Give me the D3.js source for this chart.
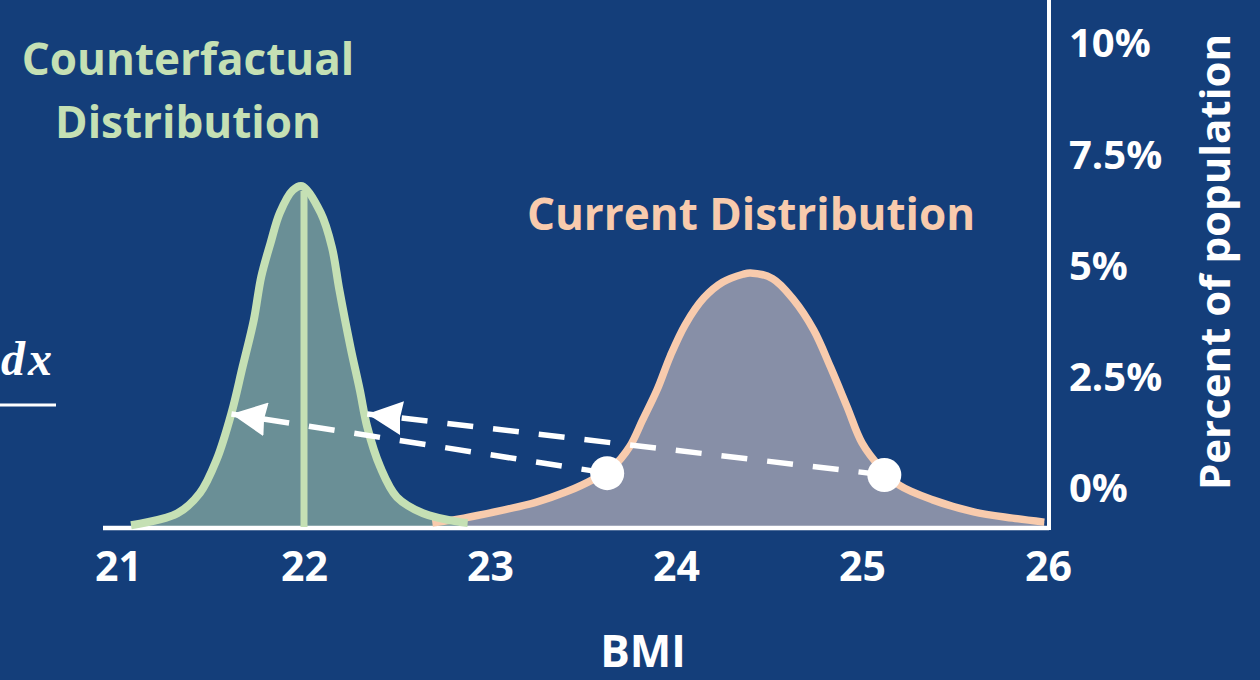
<!DOCTYPE html>
<html>
<head>
<meta charset="utf-8">
<script src="https://cdn.jsdelivr.net/npm/d3@7"></script>
<style>
  html, body { margin: 0; padding: 0; background: #143e7a; overflow: hidden; }
  svg { display: block; }
  text { font-family: "Open Sans", sans-serif; font-weight: bold; font-variant-ligatures: none; }
</style>
</head>
<body>
<div class="chart"></div>
<script>
"use strict";

// BMI ticks and percent ticks
const xTicks = [21, 22, 23, 24, 25, 26];
const yTicks = [0, 2.5, 5, 7.5, 10];

// counterfactual distribution, [BMI, percent of population]
const counterfactual = [
  [21.07, 0.04], [21.32, 0.31], [21.44, 0.76], [21.53, 1.51], [21.61, 2.56],
  [21.67, 3.6], [21.73, 4.65], [21.77, 5.62], [21.82, 6.38], [21.87, 7.06],
  [21.94, 7.57], [21.99, 7.66], [22.09, 7.06], [22.15, 6.29], [22.19, 5.33],
  [22.25, 4.04], [22.3, 3.08], [22.34, 2.25], [22.41, 1.35], [22.5, 0.67],
  [22.64, 0.31], [22.84, 0.11], [22.88, 0.09]
];

// current distribution
const current = [
  [22.69, 0.09], [22.86, 0.2], [23.07, 0.38], [23.25, 0.56], [23.41, 0.79],
  [23.55, 1.06], [23.66, 1.35], [23.75, 1.8], [23.82, 2.4], [23.9, 3.1],
  [23.97, 3.85], [24.05, 4.55], [24.15, 5.15], [24.25, 5.5], [24.36, 5.68],
  [24.4, 5.71], [24.52, 5.58], [24.63, 5.12], [24.74, 4.43], [24.83, 3.6],
  [24.92, 2.7], [25.0, 1.89], [25.1, 1.33], [25.2, 0.94], [25.38, 0.61],
  [25.6, 0.34], [25.81, 0.2], [25.98, 0.11]
];

// mean of the counterfactual (vertical line)
const cfMean = [22.0, 7.55];

// shift arrows: from a point on the current curve to the counterfactual curve
const shifts = [
  { from: [23.63, 1.21], to: [21.61, 2.54] },
  { from: [25.12, 1.17], to: [22.34, 2.54] }
];

const width = 1260;
const height = 680;

const svg = d3
  .select(".chart")
  .append("svg")
  .attr("width", width)
  .attr("height", height);

svg.append("rect").attr("width", width).attr("height", height).style("fill", "#143e7a");

const x = d3.scaleLinear().domain([21, 26]).range([118, 1048]);
const y = d3.scaleLinear().domain([0, 10]).range([527, 82]);

const area = d3
  .area()
  .x((d) => x(d[0]))
  .y0(y(0))
  .y1((d) => y(d[1]))
  .curve(d3.curveCatmullRom.alpha(0.5));

const line = d3
  .line()
  .x((d) => x(d[0]))
  .y((d) => y(d[1]))
  .curve(d3.curveCatmullRom.alpha(0.5));

// fills
svg.append("path").datum(current).attr("d", area).style("fill", "#878fa7");
svg.append("path").datum(counterfactual).attr("d", area).style("fill", "#6a8f96");

// baseline and right axis line
svg
  .append("line")
  .attr("x1", 103)
  .attr("x2", 1049)
  .attr("y1", y(0) + 1)
  .attr("y2", y(0) + 1)
  .style("stroke", "#fff")
  .style("stroke-width", 4.5);

svg
  .append("line")
  .attr("x1", 1049)
  .attr("x2", 1049)
  .attr("y1", 0)
  .attr("y2", y(0) + 3)
  .style("stroke", "#fff")
  .style("stroke-width", 4);

// outlines
svg
  .append("path")
  .datum(current)
  .attr("d", line)
  .style("fill", "none")
  .style("stroke", "#f8cbad")
  .style("stroke-width", 7.5);

svg
  .append("path")
  .datum(counterfactual)
  .attr("d", line)
  .style("fill", "none")
  .style("stroke", "#c5e0b4")
  .style("stroke-width", 8);

svg
  .append("line")
  .attr("x1", x(cfMean[0]))
  .attr("x2", x(cfMean[0]))
  .attr("y1", y(0))
  .attr("y2", y(cfMean[1]))
  .style("stroke", "#c5e0b4")
  .style("stroke-width", 7);

// arrow head
svg
  .append("defs")
  .append("marker")
  .attr("id", "head")
  .attr("markerUnits", "userSpaceOnUse")
  .attr("viewBox", "0 0 36 34")
  .attr("markerWidth", 36)
  .attr("markerHeight", 34)
  .attr("refX", 35)
  .attr("refY", 17)
  .attr("orient", "auto")
  .append("path")
  .attr("d", "M0,0 L35,17 L0,34 L2,17 Z")
  .style("fill", "#fff");

svg
  .selectAll(".shift")
  .data(shifts)
  .enter()
  .append("line")
  .attr("class", "shift")
  .attr("x1", (d) => x(d.from[0]))
  .attr("y1", (d) => y(d.from[1]))
  .attr("x2", (d) => x(d.to[0]))
  .attr("y2", (d) => y(d.to[1]))
  .style("stroke", "#fff")
  .style("stroke-width", 5.5)
  .style("stroke-dasharray", "26 20")
  .attr("marker-end", "url(#head)");

svg
  .selectAll(".dot")
  .data(shifts)
  .enter()
  .append("circle")
  .attr("class", "dot")
  .attr("cx", (d) => x(d.from[0]))
  .attr("cy", (d) => y(d.from[1]))
  .attr("r", 17)
  .style("fill", "#fff");

// axes
const xAxis = svg
  .append("g")
  .attr("transform", `translate(0,${y(0)})`)
  .call(
    d3
      .axisBottom(x)
      .tickValues(xTicks)
      .tickSize(0)
      .tickPadding(25)
      .tickFormat(d3.format("d"))
  );
xAxis.select(".domain").remove();
xAxis.selectAll("text").style("font-size", "41px").style("fill", "#fff").style("font-family", null);

const yAxis = svg
  .append("g")
  .attr("transform", "translate(1049,-38)")
  .call(
    d3
      .axisRight(y)
      .tickValues(yTicks)
      .tickSize(0)
      .tickPadding(20)
      .tickFormat((d) => d + "%")
  );
yAxis.select(".domain").remove();
yAxis.selectAll("text").style("font-size", "40px").style("fill", "#fff").style("font-family", null);

// labels
svg
  .append("text")
  .attr("x", 643)
  .attr("y", 667)
  .attr("text-anchor", "middle")
  .style("font-size", "44px")
  .style("fill", "#fff")
  .text("BMI");

svg
  .append("text")
  .attr("transform", "translate(1230,262) rotate(-90)")
  .attr("text-anchor", "middle")
  .style("font-size", "42px")
  .style("fill", "#fff")
  .text("Percent of population");

const cfLabel = svg
  .append("text")
  .attr("text-anchor", "middle")
  .style("font-size", "44px")
  .style("fill", "#c5e0b4");
cfLabel.append("tspan").attr("x", 188).attr("y", 75).text("Counterfactual");
cfLabel.append("tspan").attr("x", 188).attr("y", 138).text("Distribution");

svg
  .append("text")
  .attr("x", 751)
  .attr("y", 230)
  .attr("text-anchor", "middle")
  .style("font-size", "44px")
  .style("fill", "#f8cbad")
  .text("Current Distribution");

// formula fragment at the left edge
svg
  .append("text")
  .attr("x", 1)
  .attr("y", 375)
  .style("font-family", "'Liberation Serif', serif")
  .style("font-style", "italic")
  .style("font-size", "48px")
  .style("letter-spacing", "3px")
  .style("fill", "#fff")
  .text("dx");

svg
  .append("line")
  .attr("x1", 0)
  .attr("x2", 56)
  .attr("y1", 405)
  .attr("y2", 405)
  .style("stroke", "#fff")
  .style("stroke-width", 3);
</script>
</body>
</html>
